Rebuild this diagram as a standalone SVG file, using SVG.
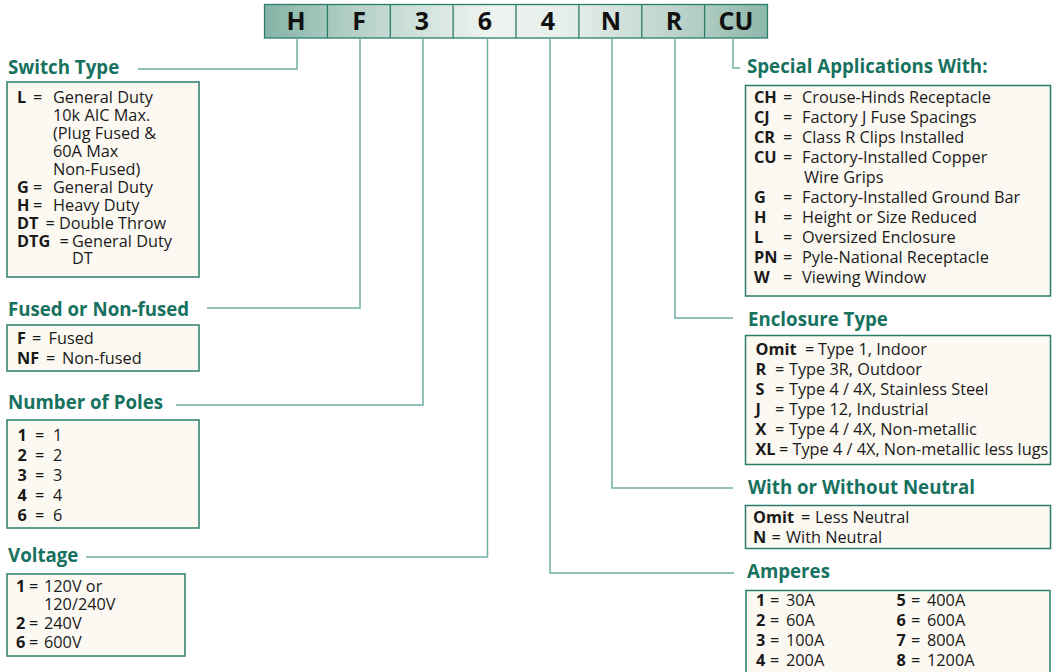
<svg xmlns="http://www.w3.org/2000/svg" width="1052" height="672" viewBox="0 0 1052 672">
<defs>
<linearGradient id="hdr" x1="0" y1="0" x2="1" y2="0">
<stop offset="0" stop-color="#86b4a7"/>
<stop offset="0.2" stop-color="#b9d3ca"/>
<stop offset="0.45" stop-color="#eef4f0"/>
<stop offset="0.6" stop-color="#e6efea"/>
<stop offset="0.85" stop-color="#b5cfc6"/>
<stop offset="1" stop-color="#8db7aa"/>
</linearGradient>
<style>
.t{font-family:"Open Sans","Noto Sans",sans-serif;font-weight:bold;font-size:18.7px;fill:#17715f}
.b{font-family:"Open Sans","Noto Sans",sans-serif;font-size:16.3px;fill:#1a1a1a}
.k{font-weight:bold}
.box{fill:#fcf9f2;stroke:#2a7d6c;stroke-width:1.5}
.conn{fill:none;stroke:#6fb0a5;stroke-width:1.5}
.cell{fill:none;stroke:#2a7d6c;stroke-width:1.3}
.hl{font-family:"Open Sans","Noto Sans",sans-serif;font-weight:bold;font-size:25px;fill:#111;text-anchor:middle}
</style>
</defs>
<rect width="1052" height="672" fill="#ffffff"/>

<g id="header">
<rect x="264.5" y="4.5" width="503" height="33.5" fill="url(#hdr)"/>
<rect class="cell" x="264.5" y="4.5" width="503" height="33.5"/>
<path class="cell" d="M327.4 4.5V38M390.3 4.5V38M453.1 4.5V38M516 4.5V38M578.9 4.5V38M641.8 4.5V38M704.6 4.5V38"/>
<text class="hl" y="30"><tspan x="296">H</tspan><tspan x="359">F</tspan><tspan x="422">3</tspan><tspan x="485">6</tspan><tspan x="548">4</tspan><tspan x="611">N</tspan><tspan x="674">R</tspan><tspan x="736">CU</tspan></text>
</g>

<g id="connectors">
<path class="conn" d="M297 38V69H138"/>
<path class="conn" d="M360 38V308H207"/>
<path class="conn" d="M423 38V405H176"/>
<path class="conn" d="M487.5 38V557H86"/>
<path class="conn" d="M550 38V573H734"/>
<path class="conn" d="M612 38V488H733"/>
<path class="conn" d="M675 38V318H733"/>
<path class="conn" d="M733 38V68H740"/>
</g>

<g id="switch-type">
<text class="t" x="8" y="74">Switch Type</text>
<rect class="box" x="7" y="82" width="192" height="195"/>
<text class="b"><tspan class="k" x="17" y="103">L</tspan><tspan x="33" y="103">=</tspan><tspan x="53" y="103">General Duty</tspan><tspan x="53" y="121">10k AIC Max.</tspan><tspan x="53" y="139">(Plug Fused &amp;</tspan><tspan x="53" y="157">60A Max</tspan><tspan x="53" y="175">Non-Fused)</tspan><tspan class="k" x="17" y="193">G</tspan><tspan x="33" y="193">=</tspan><tspan x="53" y="193">General Duty</tspan><tspan class="k" x="17" y="211">H</tspan><tspan x="33" y="211">=</tspan><tspan x="53" y="211">Heavy Duty</tspan><tspan class="k" x="17" y="229">DT</tspan><tspan x="45.5" y="229">=</tspan><tspan x="59" y="229">Double Throw</tspan><tspan class="k" x="17" y="247">DTG</tspan><tspan x="59.5" y="247">=</tspan><tspan x="72" y="247">General Duty</tspan><tspan x="72" y="264">DT</tspan></text>
</g>

<g id="fused">
<text class="t" x="8" y="316">Fused or Non-fused</text>
<rect class="box" x="7" y="325" width="192" height="46"/>
<text class="b"><tspan class="k" x="17" y="344">F</tspan><tspan x="32" y="344">=</tspan><tspan x="48.5" y="344">Fused</tspan><tspan class="k" x="17" y="364">NF</tspan><tspan x="46" y="364">=</tspan><tspan x="62" y="364">Non-fused</tspan></text>
</g>

<g id="poles">
<text class="t" x="8" y="409">Number of Poles</text>
<rect class="box" x="7" y="420" width="192" height="108"/>
<text class="b"><tspan class="k" x="17.5" y="441">1</tspan><tspan x="35" y="441">=</tspan><tspan x="53" y="441">1</tspan><tspan class="k" x="17.5" y="461">2</tspan><tspan x="35" y="461">=</tspan><tspan x="53" y="461">2</tspan><tspan class="k" x="17.5" y="481">3</tspan><tspan x="35" y="481">=</tspan><tspan x="53" y="481">3</tspan><tspan class="k" x="17.5" y="501">4</tspan><tspan x="35" y="501">=</tspan><tspan x="53" y="501">4</tspan><tspan class="k" x="17.5" y="521">6</tspan><tspan x="35" y="521">=</tspan><tspan x="53" y="521">6</tspan></text>
</g>

<g id="voltage">
<text class="t" x="8" y="562">Voltage</text>
<rect class="box" x="7" y="574" width="178" height="82"/>
<text class="b"><tspan class="k" x="16" y="592">1</tspan><tspan x="29" y="592">=</tspan><tspan x="44" y="592">120V or</tspan><tspan x="44" y="610">120/240V</tspan><tspan class="k" x="16" y="629">2</tspan><tspan x="29" y="629">=</tspan><tspan x="44" y="629">240V</tspan><tspan class="k" x="16" y="648">6</tspan><tspan x="29" y="648">=</tspan><tspan x="44" y="648">600V</tspan></text>
</g>

<g id="special">
<text class="t" x="747" y="73">Special Applications With:</text>
<rect class="box" x="745.5" y="85.5" width="305" height="210.5"/>
<text class="b"><tspan class="k" x="754" y="103">CH</tspan><tspan x="783" y="103">=</tspan><tspan x="802" y="103">Crouse-Hinds Receptacle</tspan><tspan class="k" x="754" y="123">CJ</tspan><tspan x="783" y="123">=</tspan><tspan x="802" y="123">Factory J Fuse Spacings</tspan><tspan class="k" x="754" y="143">CR</tspan><tspan x="783" y="143">=</tspan><tspan x="802" y="143">Class R Clips Installed</tspan><tspan class="k" x="754" y="163">CU</tspan><tspan x="783" y="163">=</tspan><tspan x="802" y="163">Factory-Installed Copper</tspan><tspan x="804" y="183">Wire Grips</tspan><tspan class="k" x="754" y="203">G</tspan><tspan x="783" y="203">=</tspan><tspan x="802" y="203">Factory-Installed Ground Bar</tspan><tspan class="k" x="754" y="223">H</tspan><tspan x="783" y="223">=</tspan><tspan x="802" y="223">Height or Size Reduced</tspan><tspan class="k" x="754" y="243">L</tspan><tspan x="783" y="243">=</tspan><tspan x="802" y="243">Oversized Enclosure</tspan><tspan class="k" x="754" y="263">PN</tspan><tspan x="783" y="263">=</tspan><tspan x="802" y="263">Pyle-National Receptacle</tspan><tspan class="k" x="754" y="283">W</tspan><tspan x="783" y="283">=</tspan><tspan x="802" y="283">Viewing Window</tspan></text>
</g>

<g id="enclosure">
<text class="t" x="748" y="326">Enclosure Type</text>
<rect class="box" x="745.5" y="335.5" width="305" height="129"/>
<text class="b"><tspan class="k" x="755.5" y="355">Omit</tspan><tspan x="805" y="355">=</tspan><tspan x="818" y="355">Type 1, Indoor</tspan><tspan class="k" x="755.5" y="375">R</tspan><tspan x="775" y="375">=</tspan><tspan x="789" y="375">Type 3R, Outdoor</tspan><tspan class="k" x="755.5" y="395">S</tspan><tspan x="775" y="395">=</tspan><tspan x="789" y="395">Type 4 / 4X, Stainless Steel</tspan><tspan class="k" x="755.5" y="415">J</tspan><tspan x="775" y="415">=</tspan><tspan x="789" y="415">Type 12, Industrial</tspan><tspan class="k" x="755.5" y="435">X</tspan><tspan x="775" y="435">=</tspan><tspan x="789" y="435">Type 4 / 4X, Non-metallic</tspan><tspan class="k" x="755.5" y="455">XL</tspan><tspan x="779" y="455">=</tspan><tspan x="792.5" y="455">Type 4 / 4X, Non-metallic less lugs</tspan></text>
</g>

<g id="neutral">
<text class="t" x="748" y="494">With or Without Neutral</text>
<rect class="box" x="745.5" y="505.5" width="305" height="43"/>
<text class="b"><tspan class="k" x="753" y="523">Omit</tspan><tspan x="801" y="523">=</tspan><tspan x="815" y="523">Less Neutral</tspan><tspan class="k" x="753" y="543">N</tspan><tspan x="771.5" y="543">=</tspan><tspan x="786" y="543">With Neutral</tspan></text>
</g>

<g id="amperes">
<text class="t" x="747" y="578">Amperes</text>
<rect class="box" x="746" y="590.5" width="304" height="95"/>
<text class="b"><tspan class="k" x="756" y="606">1</tspan><tspan x="770" y="606">=</tspan><tspan x="786" y="606">30A</tspan><tspan class="k" x="896.5" y="606">5</tspan><tspan x="911" y="606">=</tspan><tspan x="927" y="606">400A</tspan><tspan class="k" x="756" y="626">2</tspan><tspan x="770" y="626">=</tspan><tspan x="786" y="626">60A</tspan><tspan class="k" x="896.5" y="626">6</tspan><tspan x="911" y="626">=</tspan><tspan x="927" y="626">600A</tspan><tspan class="k" x="756" y="646">3</tspan><tspan x="770" y="646">=</tspan><tspan x="786" y="646">100A</tspan><tspan class="k" x="896.5" y="646">7</tspan><tspan x="911" y="646">=</tspan><tspan x="927" y="646">800A</tspan><tspan class="k" x="756" y="666">4</tspan><tspan x="770" y="666">=</tspan><tspan x="786" y="666">200A</tspan><tspan class="k" x="896.5" y="666">8</tspan><tspan x="911" y="666">=</tspan><tspan x="927" y="666">1200A</tspan></text>
</g>
</svg>
